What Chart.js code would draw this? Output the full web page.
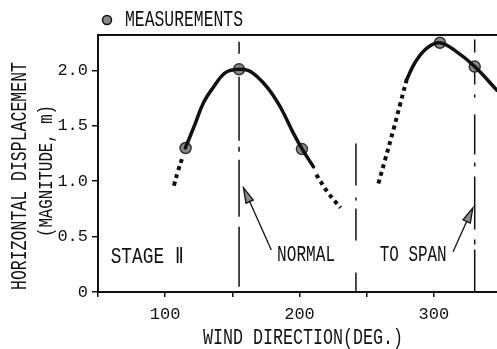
<!DOCTYPE html>
<html>
<head>
<meta charset="utf-8">
<script src="https://cdn.jsdelivr.net/npm/chart.js@4.4.1/dist/chart.umd.min.js"></script>
<style>
  html, body { margin: 0; padding: 0; background: #fff; overflow: hidden; }
  canvas { display: block; }
</style>
</head>
<body>
<canvas id="windChart" width="497" height="349"></canvas>
<script>
// wind direction (deg) / displacement (m)
const curve1Solid = [[115, 1.30], [121.4, 1.49], [128.6, 1.71], [136, 1.85], [144.9, 1.98], [155, 2.01],
                     [163.5, 1.99], [175.8, 1.85], [185.7, 1.67], [195.6, 1.43], [202, 1.29], [210.4, 1.13]];
const curve1DotLeft = [[106.5, 0.96], [109.5, 1.09], [113, 1.22]];
const curve1DotRight = [[212.5, 1.06], [221, 0.90], [230.5, 0.76]];
const curve2Dot = [[258.7, 0.98], [263.6, 1.19], [269.8, 1.46], [275, 1.70], [279.7, 1.915]];
const curve2Solid = [[279.7, 1.915], [285.9, 2.07], [294.6, 2.20], [304.5, 2.25], [316.8, 2.17],
                     [330.4, 2.035], [347, 1.82]];
const measurements = [[115.2, 1.30], [155, 2.01], [201.8, 1.29], [304.5, 2.25], [330.4, 2.035]];

// vertical reference lines: [direction, top value]
const normalLine = [155, 2.26];
const stageLine = [242, 1.34];
const spanLine = [330.4, 2.28];

const xTicks = [50, 100, 150, 200, 250, 300];
const yTicks = [0, 0.5, 1.0, 1.5, 2.0];

const FONT = "'Liberation Mono', 'DejaVu Sans Mono', monospace";

const toXY = arr => arr.map(p => ({ x: p[0], y: p[1] }));

function curve(points, dotted) {
    return {
        data: toXY(points),
        borderColor: '#111',
        borderWidth: dotted ? 4 : 3.5,
        borderDash: dotted ? [4, 4] : [],
        borderCapStyle: dotted ? 'butt' : 'round',
        tension: 0.4,
        pointRadius: 0,
        showLine: true,
        fill: false
    };
}

function vline(line, dash) {
    return {
        data: [{ x: line[0], y: line[1] }, { x: line[0], y: 0 }],
        borderColor: '#111',
        borderWidth: 1.5,
        borderDash: dash,
        pointRadius: 0,
        showLine: true,
        fill: false
    };
}

// narrow, tall lettering like the original: squeeze text to a given width
function squeezedText(ctx, text, x, y, width, size, rotate) {
    ctx.save();
    ctx.font = size + 'px ' + FONT;
    const natural = ctx.measureText(text).width;
    ctx.translate(x, y);
    if (rotate) ctx.rotate(-Math.PI / 2);
    ctx.scale(width / natural, 1);
    ctx.textAlign = 'center';
    ctx.textBaseline = 'middle';
    ctx.fillStyle = '#111';
    ctx.fillText(text, 0, 0);
    ctx.restore();
}

function drawArrow(ctx, x1, y1, x2, y2) {
    const ang = Math.atan2(y2 - y1, x2 - x1);
    const len = 15, half = 4;
    ctx.save();
    ctx.strokeStyle = '#111';
    ctx.lineWidth = 1.3;
    ctx.beginPath();
    ctx.moveTo(x1, y1);
    ctx.lineTo(x2 - Math.cos(ang) * len * 0.6, y2 - Math.sin(ang) * len * 0.6);
    ctx.stroke();
    const bx = x2 - Math.cos(ang) * len, by = y2 - Math.sin(ang) * len;
    ctx.beginPath();
    ctx.moveTo(x2, y2);
    ctx.lineTo(bx + Math.sin(ang) * half, by - Math.cos(ang) * half);
    ctx.lineTo(bx - Math.sin(ang) * half, by + Math.cos(ang) * half);
    ctx.closePath();
    ctx.fillStyle = '#8a8a8a';
    ctx.fill();
    ctx.stroke();
    ctx.restore();
}

const annotations = {
    id: 'annotations',
    afterDraw(chart) {
        const ctx = chart.ctx;
        const area = chart.chartArea;
        const xs = chart.scales.x, ys = chart.scales.y;
        ctx.save();

        // top frame line
        ctx.strokeStyle = '#111';
        ctx.lineWidth = 2;
        ctx.beginPath();
        ctx.moveTo(area.left, area.top);
        ctx.lineTo(chart.width, area.top);
        ctx.stroke();

        // legend
        ctx.beginPath();
        ctx.arc(107, 20, 4.5, 0, Math.PI * 2);
        ctx.fillStyle = '#8a8a8a';
        ctx.fill();
        ctx.lineWidth = 1.5;
        ctx.stroke();
        squeezedText(ctx, 'MEASUREMENTS', 184, 20, 118, 22);

        // labels inside plot
        squeezedText(ctx, 'STAGE \u2161', xs.getPixelForValue(86.6), ys.getPixelForValue(0.31), 73, 22);
        squeezedText(ctx, 'NORMAL', xs.getPixelForValue(204.9), ys.getPixelForValue(0.334), 58, 22);
        squeezedText(ctx, 'TO SPAN', xs.getPixelForValue(284.6), ys.getPixelForValue(0.334), 67, 22);

        // axis titles
        squeezedText(ctx, 'WIND DIRECTION(DEG.)', 303, 338, 200, 22);
        squeezedText(ctx, 'HORIZONTAL DISPLACEMENT', 20, 176, 228, 22, true);
        squeezedText(ctx, '(MAGNITUDE, m)', 46, 171, 132, 21, true);

        // arrows
        drawArrow(ctx, xs.getPixelForValue(179), ys.getPixelForValue(0.38),
                  xs.getPixelForValue(158.3), ys.getPixelForValue(0.94));
        drawArrow(ctx, xs.getPixelForValue(314.3), ys.getPixelForValue(0.364),
                  xs.getPixelForValue(329), ys.getPixelForValue(0.76));
        ctx.restore();
    }
};

const ctx = document.getElementById('windChart').getContext('2d');
new Chart(ctx, {
    type: 'scatter',
    data: {
        datasets: [
            vline(normalLine, [12, 23, 64, 6, 5, 8, 57, 10, 60]),
            vline(stageLine, [42, 12, 3, 8, 32, 32, 20]),
            vline(spanLine, [13, 19, 13, 10, 3, 17, 40, 8, 4, 10, 53, 10, 5, 5, 42]),
            curve(curve1DotLeft, true),
            curve(curve1DotRight, true),
            curve(curve2Dot, true),
            curve(curve1Solid, false),
            curve(curve2Solid, false),
            {
                data: toXY(measurements),
                pointRadius: 5.5,
                pointBackgroundColor: '#8a8a8a',
                pointBorderColor: '#333',
                pointBorderWidth: 1.5,
                showLine: false
            }
        ]
    },
    options: {
        responsive: false,
        animation: false,
        layout: { autoPadding: false, padding: { left: 0, top: 35, right: 0, bottom: 0 } },
        plugins: {
            legend: { display: false },
            tooltip: { enabled: false }
        },
        scales: {
            x: {
                type: 'linear',
                min: 50,
                max: 347,
                afterFit: s => { s.height = 57; },
                afterBuildTicks: s => { s.ticks = xTicks.map(v => ({ value: v })); },
                ticks: {
                    color: '#111',
                    font: { family: FONT, size: 17 },
                    padding: 7,
                    maxRotation: 0,
                    callback: v => (v % 100 === 0 ? String(v) : '')
                },
                grid: { drawOnChartArea: false, tickLength: 5, color: '#111', lineWidth: 1.5 },
                border: { display: true, color: '#111', width: 2 }
            },
            y: {
                min: 0,
                max: 2.32,
                afterFit: s => { s.width = 98; },
                afterBuildTicks: s => { s.ticks = yTicks.map(v => ({ value: v })); },
                ticks: {
                    color: '#111',
                    font: { family: FONT, size: 17 },
                    padding: 4,
                    callback: v => (v === 0 ? '0' : v.toFixed(1))
                },
                grid: { drawOnChartArea: false, tickLength: 6, color: '#111', lineWidth: 1.5 },
                border: { display: true, color: '#111', width: 2 }
            }
        }
    },
    plugins: [annotations]
});
</script>
</body>
</html>
